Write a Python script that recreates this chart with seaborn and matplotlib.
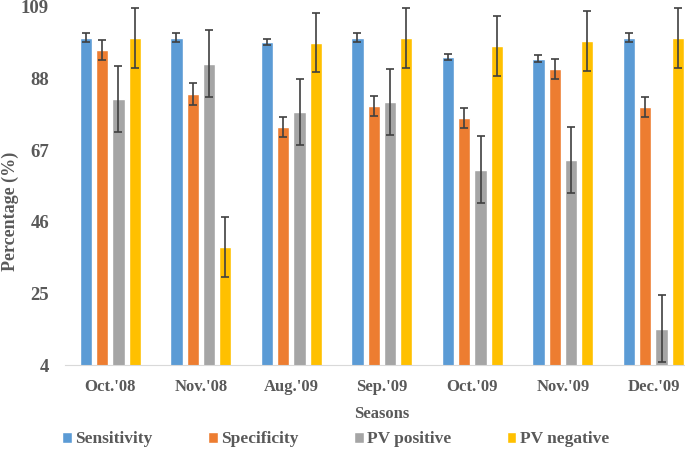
import seaborn as sns
import pandas as pd
import matplotlib.pyplot as plt

seasons = ["Oct.'08", "Nov.'08", "Aug.'09", "Sep.'09", "Oct.'09", "Nov.'09", "Dec.'09"]
metrics = ["Sensitivity", "Specificity", "PV positive", "PV negative"]

sensitivity = [100, 100, 98.7, 100, 94.3, 93.8, 100]
specificity = [96.4, 83.5, 73.8, 80, 76.4, 90.8, 79.7]
pv_positive = [82, 92.3, 78.2, 81.1, 61.2, 64.1, 14.6]
pv_negative = [100, 38.6, 98.5, 100, 97.6, 99, 100]

err_sens = [1.2, 1.2, 1.0, 1.2, 1.0, 1.0, 1.2]
err_spec = [3, 3.2, 3, 3, 3, 3, 3]
err_pvpos = [9.7, 9.8, 9.7, 9.7, 9.8, 9.8, 9.8]
err_pvneg = [8.8, 8.7, 8.6, 8.8, 8.8, 8.7, 8.8]

colors = ["#5B9BD5", "#ED7D31", "#A5A5A5", "#FFC000"]

values = [sensitivity, specificity, pv_positive, pv_negative]
errors = [err_sens, err_spec, err_pvpos, err_pvneg]

rows = []
for m, vals in zip(metrics, values):
    for s, v in zip(seasons, vals):
        rows.append({"season": s, "metric": m, "value": v})
df = pd.DataFrame(rows)

sns.set_style("white")
plt.rcParams['font.family'] = ['Liberation Serif', 'DejaVu Serif']
plt.rcParams['font.weight'] = 'bold'

fig = plt.figure(figsize=(6.85, 4.58), dpi=100)
ax = fig.add_axes([0.095, 0.203, 0.925, 0.782])

sns.barplot(data=df, x="season", y="value", hue="metric", palette=colors,
            saturation=1, width=0.72, gap=0.25, ax=ax, errorbar=None)

# error bars drawn on the bar centres
for cont, errs in zip(ax.containers, errors):
    xs = [b.get_x() + b.get_width() / 2 for b in cont]
    ys = [b.get_height() for b in cont]
    ax.errorbar(xs, ys, yerr=errs, fmt='none', ecolor="#404040",
                elinewidth=1.2, capsize=3, capthick=1.2, clip_on=False)

ax.set_xlim(-0.5, 6.5)
ax.set_ylim(4, 109)
ax.set_yticks([4, 25, 46, 67, 88, 109])
ax.tick_params(axis='both', length=0, colors="#595959")
for lab in ax.get_yticklabels():
    lab.set_fontsize(13.5)
    lab.set_fontweight('bold')
for lab in ax.get_xticklabels():
    lab.set_fontsize(12)
    lab.set_fontweight('bold')
ax.tick_params(axis='x', pad=10)
ax.tick_params(axis='y', pad=11.5)

ax.set_xlabel("Seasons", fontsize=12, fontweight='bold', color="#595959", labelpad=8)
ax.set_ylabel("Percentage (%)", fontsize=13, fontweight='bold', color="#595959")
ax.yaxis.set_label_coords(-0.072, 0.43)

sns.despine(ax=ax, left=True, top=True, right=True)
ax.spines['bottom'].set_color("#D9D9D9")

ax.legend(loc='upper center', bbox_to_anchor=(0.49, 0.092), bbox_transform=fig.transFigure,
          ncol=4, frameon=False, handlelength=0.55, handleheight=0.55,
          handletextpad=0.2, columnspacing=3.2,
          prop={'size': 12.5, 'weight': 'bold'}, labelcolor="#595959")

fig.savefig("out.png", dpi=100)
